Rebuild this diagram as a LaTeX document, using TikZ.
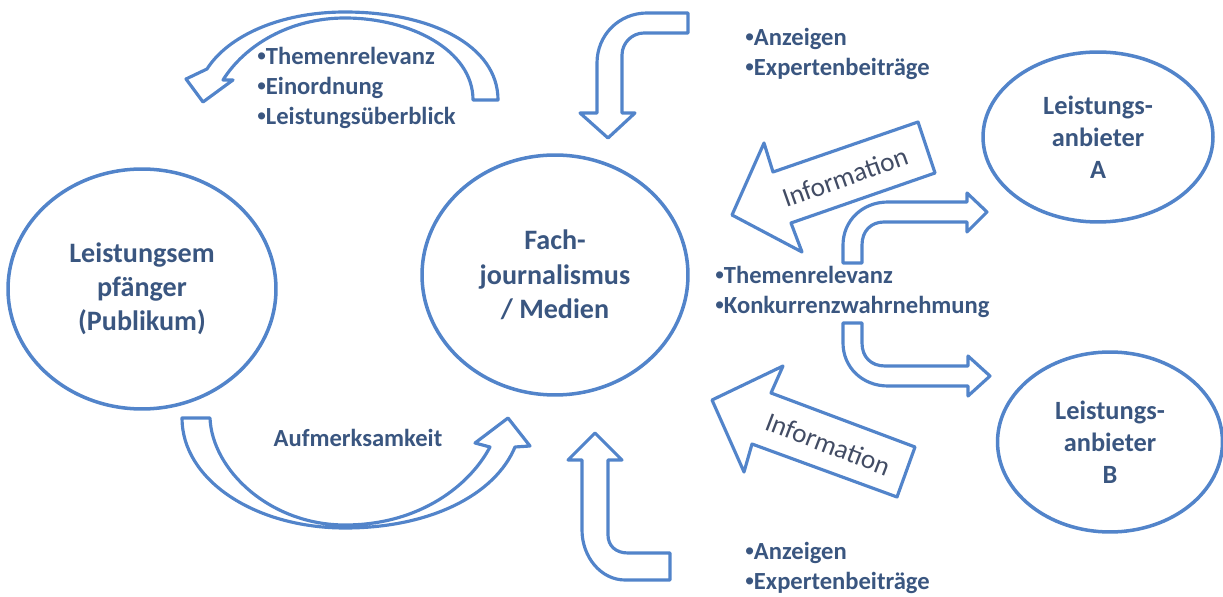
\documentclass[tikz,border=0pt]{standalone}
\usepackage{fontspec}
\setmainfont{Carlito}
\newfontfamily\bulfont{Liberation Sans}
\usepackage{tikz}
\usetikzlibrary{shapes}
\definecolor{eblue}{RGB}{82,132,202}
\definecolor{tblue}{RGB}{58,86,128}
\definecolor{igray}{RGB}{66,76,100}
\newcommand{\bul}{{\bulfont •}}
\tikzstyle{ecell} = [ellipse, draw=eblue, line width=2pt, inner sep=0pt, text=tblue, font=\bfseries\fontsize{16}{19.5}\selectfont, align=center]
\tikzstyle{blist} = [anchor=west, inner sep=0pt, text=tblue, font=\bfseries\fontsize{14}{17}\selectfont, align=left]
\tikzstyle{barrow} = [draw=eblue, line width=1.8pt, line join=round]
\tikzstyle{info} = [inner sep=0pt, text=igray, font=\fontsize{15.5}{18}\selectfont]

\begin{document}
\begin{tikzpicture}[x=0.02cm, y=-0.02cm]
    \useasboundingbox (0,0) rectangle (1223,597);

    % ellipses
    \node[ecell, minimum width=5.36cm, minimum height=4.8cm](publikum) at (142,289) {Leistungsem\\pfänger\\(Publikum)};
    \node[ecell, minimum width=5.32cm, minimum height=4.8cm](medien) at (555,275) {Fach-\\journalismus\\/ Medien};
    \node[ecell, minimum width=4.6cm, minimum height=3.4cm, font=\bfseries\fontsize{15}{18.3}\selectfont](anbA) at (1098,137) {Leistungs-\\anbieter\\A};
    \node[ecell, minimum width=4.5cm, minimum height=3.6cm, font=\bfseries\fontsize{15}{18.3}\selectfont](anbB) at (1110,442) {Leistungs-\\anbieter\\B};

    % curved arrow over the top, left
    \draw[barrow] (473,100) -- (498,100) .. controls (498,45) and (430,12) .. (345,12)
        .. controls (280,12) and (228,36) .. (207,69) -- (186,79) -- (203,102) -- (233,80) -- (223,80)
        .. controls (245,45) and (290,18) .. (345,18) .. controls (410,18) and (473,50) .. (473,100) -- cycle;
    % curved arrow at the bottom, left
    \draw[barrow] (182,418) -- (210,418) .. controls (212,470) and (270,525) .. (345,525)
        .. controls (420,525) and (470,485) .. (490,447) -- (475,443) -- (508,418) -- (530,446) -- (515,447)
        .. controls (495,495) and (430,528) .. (345,528) .. controls (255,528) and (182,480) .. (182,418) -- cycle;

    % bent arrows into the centre
    \draw[barrow] (688,13) -- (647,13) .. controls (619,13) and (597,35) .. (597,63) -- (597,113) -- (580,113)
        -- (608,138) -- (635,113) -- (622,113) -- (622,55) .. controls (622,43) and (632,33) .. (644,33) -- (688,33) -- cycle;
    \draw[barrow] (595,433) -- (622,460) -- (608,460) -- (608,535) .. controls (608,546) and (616,553) .. (628,553)
        -- (670,553) -- (670,580) -- (625,580) .. controls (601,580) and (582,557) .. (582,530) -- (582,460) -- (568,460) -- cycle;

    % bent arrows to the right
    \draw[barrow] (843,263) -- (843,245) .. controls (843,221) and (862,202) .. (888,202) -- (967,202) -- (967,193)
        -- (987,212) -- (967,232) -- (967,222) -- (884,222) .. controls (871,222) and (862,231) .. (862,245) -- (862,263) -- cycle;
    \draw[barrow] (843,323) -- (862,323) -- (862,343) .. controls (862,357) and (871,366) .. (885,366) -- (968,366) -- (968,356)
        -- (990,376) -- (968,396) -- (968,386) -- (888,386) .. controls (862,386) and (843,367) .. (843,343) -- cycle;

    % information arrows
    \draw[barrow] (732,215) -- (764,143) -- (773,172) -- (918,122) -- (935,173) -- (791,223) -- (802,252) -- cycle;
    \draw[barrow] (712,400) -- (783,366) -- (771,393) -- (915,447) -- (897,497) -- (752,444) -- (744,472) -- cycle;
    \node[info, rotate=19.5](infoA) at (845,177) {Information};
    \node[info, rotate=-21](infoB) at (828,444) {Information};

    % texts
    \node[blist](listTL) at (257,88) {\bul Themenrelevanz\\\bul Einordnung\\\bul Leistungsüberblick};
    \node[blist](listTR) at (745,54) {\bul Anzeigen\\\bul Expertenbeiträge};
    \node[blist](listMR) at (715,292) {\bul Themenrelevanz\\\bul Konkurrenzwahrnehmung};
    \node[blist](listBR) at (745,568) {\bul Anzeigen\\\bul Expertenbeiträge};
    \node[blist, anchor=center](aufm) at (358,438) {Aufmerksamkeit};
\end{tikzpicture}
\end{document}
